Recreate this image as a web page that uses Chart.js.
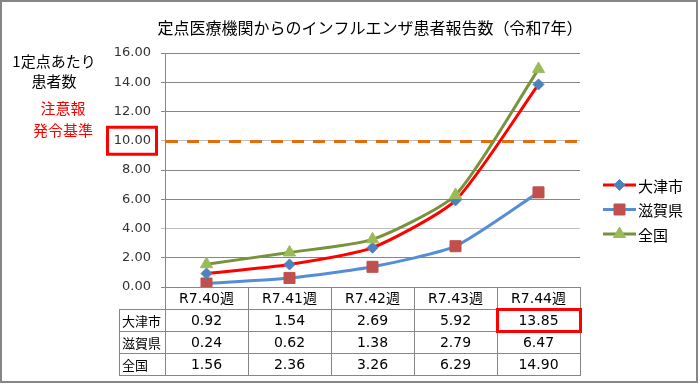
<!DOCTYPE html>
<html><head><meta charset="utf-8">
<script src="https://cdn.jsdelivr.net/npm/chart.js@4/dist/chart.umd.min.js"></script>
<style>html,body{margin:0;padding:0;background:#fff}canvas{display:block}</style>
</head><body>
<canvas id="c" width="700" height="384"></canvas>
<script>
// ---- data ----
const chartTitle = '定点医療機関からのインフルエンザ患者報告数（令和7年）';
const categories = ['R7.40週', 'R7.41週', 'R7.42週', 'R7.43週', 'R7.44週'];
const seriesNames = ['大津市', '滋賀県', '全国'];
const otsuValues = [0.92, 1.54, 2.69, 5.92, 13.85];
const shigaValues = [0.24, 0.62, 1.38, 2.79, 6.47];
const nationalValues = [1.56, 2.36, 3.26, 6.29, 14.90];
const yTicks = [0, 2, 4, 6, 8, 10, 12, 14, 16];
const alertThreshold = 10;
const yAxisTitle = ['1定点あたり', '患者数'];
const alertLabel = ['注意報', '発令基準'];
const highlightRow = 0, highlightCol = 4;

// ---- styles ----
const NUMFONT = '"DejaVu Sans", "Noto Sans CJK JP", sans-serif';
const JFONT = '"Noto Sans CJK JP", sans-serif';
const GRID = '#868686';
const GRID_LIGHT = '#C0C0C0';

const seriesValues = [otsuValues, shigaValues, nationalValues];
const seriesStyle = [
  {line: '#FF0000', marker: '#4F81BD', shape: 'rectRot', r: 5.5, order: 1},
  {line: '#558ED5', marker: '#C0504D', shape: 'rect', r: 7.8, order: 2},
  {line: '#77933C', marker: '#9BBB59', shape: 'triangle', r: 7, order: 0}
];

const datasets = seriesNames.map((name, i) => ({
  label: name,
  data: seriesValues[i],
  borderColor: seriesStyle[i].line,
  backgroundColor: seriesStyle[i].marker,
  pointBackgroundColor: seriesStyle[i].marker,
  pointBorderColor: seriesStyle[i].marker,
  pointBorderWidth: 1,
  pointStyle: seriesStyle[i].shape,
  pointRadius: seriesStyle[i].r,
  pointHoverRadius: seriesStyle[i].r,
  borderWidth: 3,
  tension: 0.2,
  fill: false,
  order: seriesStyle[i].order
}));

function drawMarker(ctx, shape, r, x, y) {
  ctx.beginPath();
  if (shape === 'rect') {
    const s = Math.SQRT1_2 * r;
    ctx.rect(x - s, y - s, 2 * s, 2 * s);
  } else if (shape === 'rectRot') {
    ctx.moveTo(x - r, y); ctx.lineTo(x, y - r); ctx.lineTo(x + r, y); ctx.lineTo(x, y + r);
    ctx.closePath();
  } else {
    const a = 2 * Math.PI / 3;
    ctx.moveTo(x, y - r);
    ctx.lineTo(x + Math.sin(a) * r, y - Math.cos(a) * r);
    ctx.lineTo(x + Math.sin(2 * a) * r, y - Math.cos(2 * a) * r);
    ctx.closePath();
  }
  ctx.fill(); ctx.stroke();
}

const decor = {
  id: 'decor',
  beforeDraw(chart) {
    const ctx = chart.ctx;
    ctx.save(); ctx.fillStyle = '#fff'; ctx.fillRect(0, 0, chart.width, chart.height); ctx.restore();
  },
  beforeDatasetsDraw(chart) {
    const ctx = chart.ctx, ys = chart.scales.y, ca = chart.chartArea;
    const y = Math.round(ys.getPixelForValue(alertThreshold));
    ctx.save();
    ctx.strokeStyle = '#E46C0A'; ctx.lineWidth = 3; ctx.setLineDash([12, 9]);
    ctx.beginPath(); ctx.moveTo(ca.left + 1, y + 0.5); ctx.lineTo(ca.right + 6, y + 0.5); ctx.stroke();
    ctx.restore();
  },
  afterDraw(chart) {
    const ctx = chart.ctx, ys = chart.scales.y, xs = chart.scales.x, ca = chart.chartArea;
    ctx.save();
    // title
    ctx.fillStyle = '#000'; ctx.font = '16px ' + JFONT; ctx.textAlign = 'center'; ctx.textBaseline = 'middle';
    ctx.fillText(chartTitle, 370, 28);
    // y axis title
    ctx.font = '15px ' + JFONT;
    ctx.fillText(yAxisTitle[0], 54, 61);
    ctx.fillText(yAxisTitle[1], 54, 81);
    ctx.fillStyle = '#FF0000';
    ctx.fillText(alertLabel[0], 63, 108);
    ctx.fillText(alertLabel[1], 63, 130);
    // red box around threshold tick
    const ty = ys.getPixelForValue(alertThreshold);
    ctx.strokeStyle = '#FF0000'; ctx.lineWidth = 3;
    ctx.strokeRect(107.5, ty - 13.5, 49, 27);

    // legend
    const legTop = 185, legGap = 24.5;
    datasets.forEach((ds, i) => {
      const y = legTop + i * legGap;
      ctx.strokeStyle = ds.borderColor; ctx.lineWidth = 3;
      ctx.beginPath(); ctx.moveTo(603, y); ctx.lineTo(636, y); ctx.stroke();
      ctx.fillStyle = ds.pointBackgroundColor; ctx.strokeStyle = ds.pointBorderColor; ctx.lineWidth = 1;
      drawMarker(ctx, ds.pointStyle, ds.pointRadius, 619.5, y);
      ctx.fillStyle = '#000'; ctx.font = '15px ' + JFONT; ctx.textAlign = 'left'; ctx.textBaseline = 'middle';
      ctx.fillText(ds.label, 638, y + 1);
    });

    // data table
    const n = categories.length;
    const colW = (ca.right - ca.left) / n;
    const rowH = 22, labelW = 46;
    const top0 = Math.round(ca.bottom);
    const L = Math.round(ca.left), R = Math.round(ca.right);
    const rows = seriesNames.length;
    ctx.strokeStyle = GRID; ctx.lineWidth = 1;
    ctx.beginPath();
    for (let r = 1; r <= rows + 1; r++) {
      const y = top0 + r * rowH + 0.5;
      ctx.moveTo(L - labelW, y); ctx.lineTo(R + 1, y);
    }
    for (let i = 0; i <= n; i++) {
      const x = Math.round(ca.left + i * colW) + 0.5;
      ctx.moveTo(x, top0); ctx.lineTo(x, top0 + (rows + 1) * rowH + 1);
    }
    ctx.moveTo(L - labelW + 0.5, top0 + rowH); ctx.lineTo(L - labelW + 0.5, top0 + (rows + 1) * rowH + 1);
    ctx.stroke();

    ctx.fillStyle = '#000'; ctx.textAlign = 'center'; ctx.textBaseline = 'middle';
    ctx.font = '14px ' + NUMFONT;
    categories.forEach((c, i) => ctx.fillText(c, xs.getPixelForValue(i), top0 + rowH / 2 + 1));
    seriesNames.forEach((name, r) => {
      const y = top0 + (r + 1) * rowH + rowH / 2 + 1;
      ctx.textAlign = 'left'; ctx.font = '13px ' + JFONT;
      ctx.fillText(name, L - labelW + 3, y);
      ctx.textAlign = 'center'; ctx.font = '14px ' + NUMFONT;
      seriesValues[r].forEach((v, i) => ctx.fillText(v.toFixed(2), xs.getPixelForValue(i), y));
    });
    // highlighted cell
    ctx.strokeStyle = '#FF0000'; ctx.lineWidth = 3;
    ctx.strokeRect(Math.round(ca.left + highlightCol * colW) + 0.5, top0 + (highlightRow + 1) * rowH + 0.5, colW, rowH);

    // outer border
    ctx.strokeStyle = GRID; ctx.lineWidth = 2;
    ctx.strokeRect(1, 1, 696, 381);
    ctx.restore();
  }
};

new Chart(document.getElementById('c'), {
  type: 'line',
  data: { labels: categories, datasets: datasets },
  options: {
    responsive: false,
    animation: false,
    devicePixelRatio: 1,
    layout: { padding: { left: 0, top: 53, right: 120, bottom: 97 } },
    plugins: { legend: { display: false }, title: { display: false }, tooltip: { enabled: false } },
    scales: {
      x: { display: false, offset: true },
      y: {
        min: 0, max: 16,
        afterFit: (s) => { s.width = 165; },
        afterBuildTicks: (s) => { s.ticks = yTicks.map(v => ({ value: v })); },
        ticks: {
          padding: 10,
          color: '#333',
          font: { family: NUMFONT, size: 13 },
          callback: (v) => Number(v).toFixed(2)
        },
        grid: {
          tickLength: 4,
          lineWidth: 1,
          color: (c) => (c.tick && (c.tick.value === 4 || c.tick.value === 10)) ? GRID_LIGHT : GRID
        },
        border: { display: true, color: GRID, width: 1 }
      }
    }
  },
  plugins: [decor]
});
</script>
</body></html>
